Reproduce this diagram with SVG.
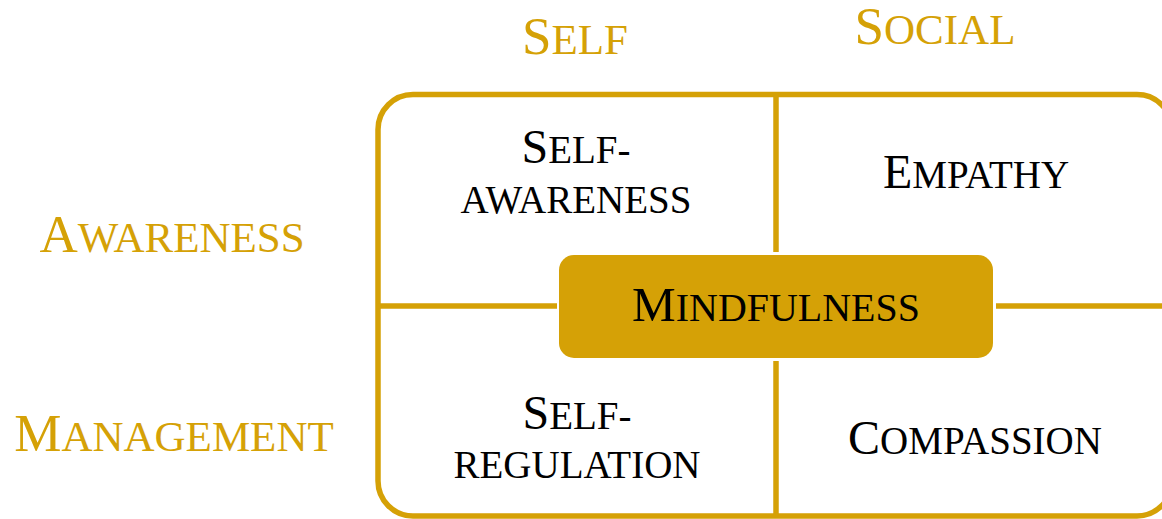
<svg xmlns="http://www.w3.org/2000/svg" width="1162" height="519" viewBox="0 0 1162 519">
  <style>
    .axis { font-family: "Liberation Serif", "Times New Roman", serif; fill: #D5A106; text-anchor: middle; font-size: 53px; }
    .axis .sc { font-size: 43px; }
    .cell { font-family: "Liberation Serif", "Times New Roman", serif; fill: #000; text-anchor: middle; font-size: 48px; }
    .cell .sc { font-size: 39px; }
    .rule { stroke: #D5A106; stroke-width: 5.5; fill: none; }
  </style>
  <rect width="1162" height="519" fill="#fff"/>

  <!-- axis headings -->
  <g id="col-self"><text class="axis" x="575" y="54">S<tspan class="sc">ELF</tspan></text></g>
  <g id="col-social"><text class="axis" x="935" y="44">S<tspan class="sc">OCIAL</tspan></text></g>
  <g id="row-awareness"><text class="axis" x="172" y="252">A<tspan class="sc">WARENESS</tspan></text></g>
  <g id="row-management"><text class="axis" x="174" y="451">M<tspan class="sc">ANAGEMENT</tspan></text></g>

  <!-- outer frame and dividers -->
  <g id="connectors">
    <rect class="rule" x="378" y="94.5" width="794" height="421.5" rx="35" ry="35"/>
    <line class="rule" x1="378" y1="306" x2="557" y2="306"/>
    <line class="rule" x1="996" y1="306" x2="1172" y2="306"/>
    <line class="rule" x1="776" y1="94.5" x2="776" y2="252"/>
    <line class="rule" x1="776" y1="361" x2="776" y2="516"/>
  </g>

  <!-- quadrants -->
  <g id="self-awareness">
    <text class="cell" x="576" y="163">S<tspan class="sc">ELF-</tspan></text>
    <text class="cell" x="576" y="213"><tspan class="sc">AWARENESS</tspan></text>
  </g>
  <g id="empathy">
    <text class="cell" x="976" y="188">E<tspan class="sc">MPATHY</tspan></text>
  </g>
  <g id="self-regulation">
    <text class="cell" x="577" y="429">S<tspan class="sc">ELF-</tspan></text>
    <text class="cell" x="577" y="478"><tspan class="sc">REGULATION</tspan></text>
  </g>
  <g id="compassion">
    <text class="cell" x="975" y="454">C<tspan class="sc">OMPASSION</tspan></text>
  </g>

  <!-- centre -->
  <g id="mindfulness">
    <rect x="559" y="255" width="434" height="103" rx="15" ry="15" fill="#D5A106"/>
    <text class="cell" x="776" y="321" textLength="288" lengthAdjust="spacingAndGlyphs">M<tspan class="sc">INDFULNESS</tspan></text>
  </g>
</svg>
